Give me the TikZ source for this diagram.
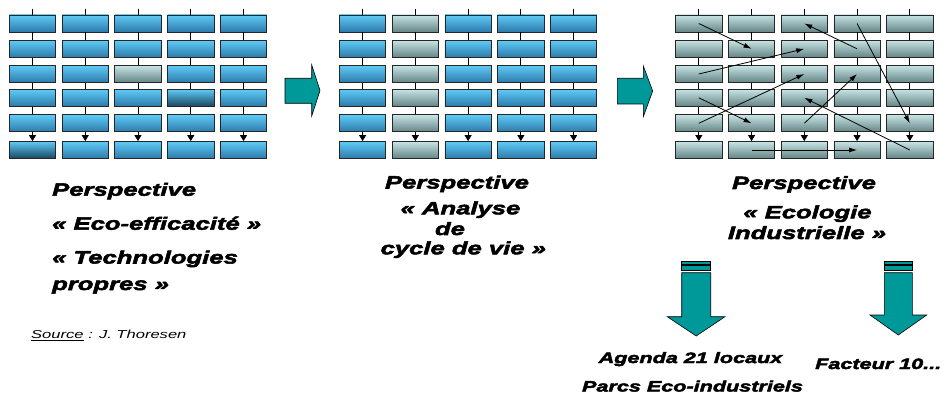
\documentclass[tikz,border=0pt]{standalone}
\usepackage{fontspec}
\usetikzlibrary{arrows.meta}
\newfontfamily\headfont[FakeStretch=1.44,FakeBold=3]{Liberation Sans}
\newfontfamily\notefont[FakeStretch=1.44]{Liberation Sans}
\definecolor{cellTop}{RGB}{96,202,246}
\definecolor{cellBot}{RGB}{44,122,170}
\definecolor{cellDeep}{RGB}{24,70,96}
\definecolor{greyTop}{RGB}{200,228,228}
\definecolor{greyBot}{RGB}{100,132,134}
\definecolor{teal}{RGB}{0,153,153}

\begin{document}
\begin{tikzpicture}[x=1pt,y=-1pt,
    cell/.style={rectangle,draw=black!85,line width=0.8pt,minimum width=46.3pt,minimum height=17pt,inner sep=0pt,top color=cellTop,bottom color=cellBot},
    greycell/.style={top color=greyTop,bottom color=greyBot},
    deepcell/.style={top color=cellTop,bottom color=cellDeep},
    grid c/.style={greycell},
    cell a-3-3/.style={greycell},
    cell a-4-4/.style={deepcell},
    cell a-1-6/.style={deepcell},
    cell b-2-1/.style={greycell}, cell b-2-2/.style={greycell}, cell b-2-3/.style={greycell},
    cell b-2-4/.style={greycell}, cell b-2-5/.style={greycell}, cell b-2-6/.style={greycell},
    link/.style={line width=0.8pt,black},
    flow/.style={line width=0.8pt,-{Latex[length=8pt,width=5pt]}},
    big arrow/.style={fill=teal,draw=black,line width=0.6pt},
    title/.style={font=\headfont\bfseries\itshape\fontsize{17.8}{20}\selectfont,inner sep=0pt},
    small title/.style={font=\headfont\bfseries\itshape\fontsize{15}{18}\selectfont,inner sep=0pt},
    note/.style={font=\notefont\itshape\fontsize{11.5}{13}\selectfont,inner sep=0pt}]
    \useasboundingbox (0,0) rectangle (952,395);

    % three grids of cells
    \foreach \g/\gx in {a/32.5,b/362.6,c/698.8}{
        \foreach \c in {1,...,5}{
            \coordinate (\g\c0) at ({\gx+52.75*(\c-1)},9);
            \foreach \r/\ry in {1/23.5,2/48.8,3/74,4/97.8,5/123.3,6/150}
                \node [cell,grid \g/.try,cell \g-\c-\r/.try] (\g\c\r) at ({\gx+52.75*(\c-1)},\ry) {};
            \draw [link] (\g\c0) -- (\g\c1.north);
            \foreach \r [evaluate=\r as \s using int(\r+1)] in {1,...,4}
                \draw [link] (\g\c\r.south) -- (\g\c\s.north);
            \draw [link,-{Triangle[length=6pt,width=7pt]}] (\g\c5.south) -- (\g\c6.north);
        }
    }

    % exchanges in the third grid
    \path[flow]
        (c11.center) edge (c22.center)
        (c13.center) edge (c32.center)
        (c42.center) edge (c31.center)
        (c41.center) edge (c55.center)
        (c14.center) edge (c25.center)
        (c15.center) edge (c33.center)
        (c35.center) edge (c43.center)
        (c56.center) edge (c34.center)
        (c26.center) edge (c46.center)
        ;

    % block arrows
    \draw [big arrow] (285,78.3) -- (311.7,78.3) -- (311.7,65) -- (320,90.5) -- (311.7,116) -- (311.7,103.3) -- (285,103.3) -- cycle;
    \draw [big arrow] (617.3,78.3) -- (643.3,78.3) -- (643.3,66) -- (652.7,91) -- (643.3,116.7) -- (643.3,104) -- (617.3,104) -- cycle;

    \draw [big arrow] (681.7,261) rectangle (710.7,264);
    \draw [big arrow] (681.7,265.7) rectangle (710.7,270.7);
    \draw [big arrow] (681.7,272.7) -- (710.7,272.7) -- (710.7,316.7) -- (725,316.7) -- (696.2,336) -- (667.3,316.7) -- (681.7,316.7) -- cycle;
    \draw [big arrow] (884.3,261) rectangle (912.3,264);
    \draw [big arrow] (884.3,265.7) rectangle (912.3,270.7);
    \draw [big arrow] (884.3,272.7) -- (912.3,272.7) -- (912.3,315) -- (926.7,315) -- (898.3,335) -- (870,315) -- (884.3,315) -- cycle;

    % captions
    \node [title,anchor=base west] (p1) at (52,195.7) {Perspective};
    \node [title,anchor=base west] (p1a) at (52,229.7) {« Eco-efficacité »};
    \node [title,anchor=base west] (p1b) at (52,263.5) {« Technologies};
    \node [title,anchor=base west] (p1c) at (52,290) {propres »};
    \node [note,anchor=base west] (src) at (31,338.3) {\underline{Source} : J. Thoresen};

    \node [title,anchor=base] (p2) at (457,188.5) {Perspective};
    \node [title,anchor=base] (p2a) at (460.5,214.3) {« Analyse};
    \node [title,anchor=base] (p2b) at (450,235) {de};
    \node [title,anchor=base] (p2c) at (463.3,254.3) {cycle de vie »};

    \node [title,anchor=base] (p3) at (804,189) {Perspective};
    \node [title,anchor=base] (p3a) at (807.5,218.3) {« Ecologie};
    \node [title,anchor=base] (p3b) at (807,239) {Industrielle »};

    \node [small title,anchor=base] (r1) at (690.5,363) {Agenda 21 locaux};
    \node [small title,anchor=base] (r2) at (692.5,391.5) {Parcs Eco-industriels};
    \node [small title,anchor=base west] (r3) at (815,369) {Facteur 10...};
\end{tikzpicture}
\end{document}
